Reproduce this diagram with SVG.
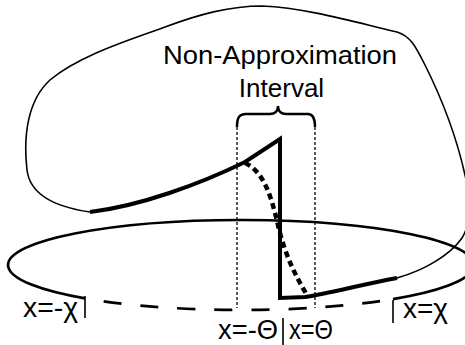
<svg xmlns="http://www.w3.org/2000/svg" width="465" height="345" viewBox="0 0 465 345">
<style>
.ln{fill:none;stroke:#000;stroke-linecap:butt;stroke-linejoin:miter}
.thin{stroke-width:1.6}
.thick{stroke-width:4}
.ell{stroke-width:2.7}
.dash{stroke-width:2.7;stroke-dasharray:18 19;stroke-dashoffset:18}
.dot{stroke-width:4.5;stroke-dasharray:6 4}
.guide{stroke-width:1.3;stroke-dasharray:3 2}
.tick{stroke-width:1.6}
.brace{stroke-width:2.5}
text{font-family:"Liberation Sans",Arial,Helvetica,sans-serif;fill:#000}
.t{font-size:26px}
.l{font-size:27px}
</style>
<rect width="465" height="345" fill="#fff"/>
<g id="ellipse">
<path class="ln ell" d="M85,298.4 A233,45 0 1 1 393,299.1"/>
<path class="ln dash" d="M85,298.4 A233,45 0 0 0 393,299.1"/>
</g>
<g id="outer-curve">
<path class="ln thin" d="M90,212 C55,207 30,195 27,170 C23,135 28,100 50,80 C80,55 130,40 165,27 C200,14 230,6 262,6 C310,8 365,25 397,32 C410,36 415,45 425,65 C440,95 455,130 465,175 C472,205 470,225 462,238 C450,255 425,270 397,278"/>
</g>
<g id="function">
<path class="ln thick" d="M397,278 C360,285 330,293 305,297 L280,298 L280,139 L245,162 C200,184 140,206 90,212"/>
<path class="ln dot" d="M245,163 C265,172 272,200 278,225 C285,255 295,275 307,295"/>
</g>
<g id="interval">
<path class="ln guide" d="M237,127 V308 M315,127 V308"/>
<path class="ln brace" d="M237,127 C237,118 239,114 246,114 L270,114 C276,114 278,110 278,106 C278,110 280,114 286,114 L308,114 C313,114 315,118 315,127"/>
<text class="t" x="163" y="64" textLength="234" lengthAdjust="spacingAndGlyphs">Non-Approximation</text>
<text class="t" x="281.5" y="97" text-anchor="middle">Interval</text>
</g>
<g id="labels">
<path class="ln tick" d="M85,296 V318 M393,300 V323 M283,318 V345"/>
<text class="l" x="23" y="317" textLength="55" lengthAdjust="spacingAndGlyphs">x=-χ</text>
<text class="l" x="218" y="339" textLength="60" lengthAdjust="spacingAndGlyphs">x=-Θ</text>
<text class="l" x="289" y="339" textLength="44" lengthAdjust="spacingAndGlyphs">x=Θ</text>
<text class="l" x="403" y="318" textLength="45" lengthAdjust="spacingAndGlyphs">x=χ</text>
</g>
</svg>
